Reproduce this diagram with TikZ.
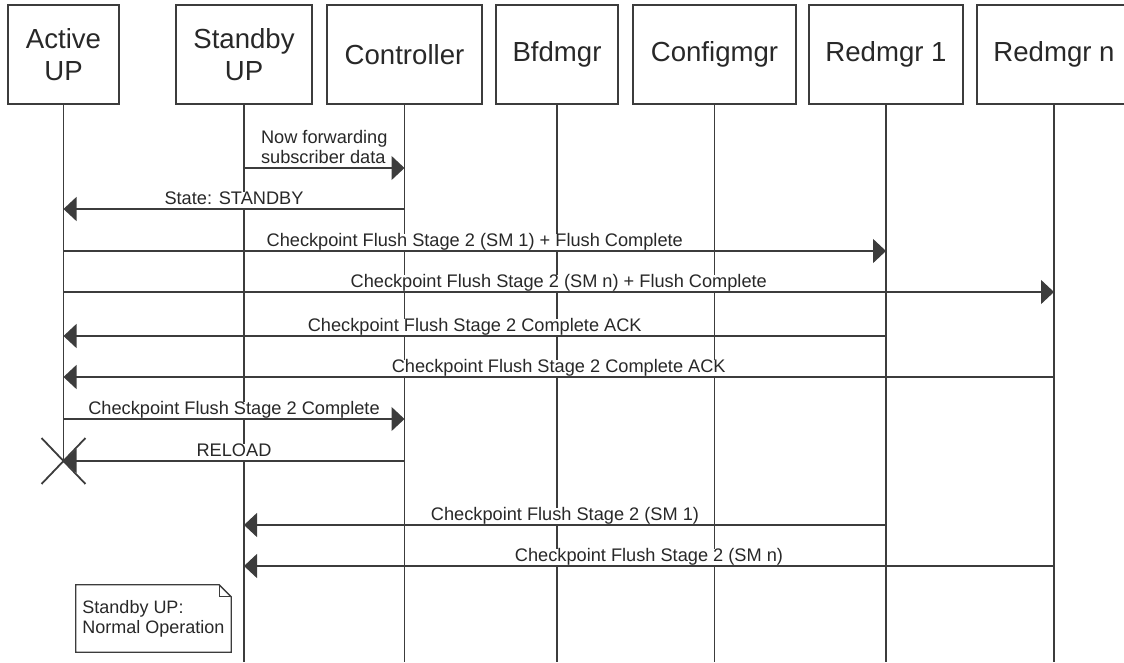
\documentclass[tikz,border=0pt]{standalone}
\usepackage{fontspec}
\setmainfont{Liberation Sans}
\usetikzlibrary{arrows.meta,shapes.misc}
\definecolor{linegray}{RGB}{60,60,60}
\definecolor{textgray}{RGB}{40,40,40}

\begin{document}
\begin{tikzpicture}[x=1pt, y=-1pt,
    actor/.style={rectangle, draw=linegray, line width=1.3pt, minimum height=99pt, inner sep=0pt, align=center, text=textgray, font=\fontsize{27.6}{32}\selectfont},
    life/.style={draw=linegray, line width=1.3pt},
    msg/.style={draw=linegray, line width=1.3pt, -{Triangle[length=13pt,width=24pt]}},
    lbl/.style={inner xsep=1pt, inner ysep=0pt, text depth=2.8pt, fill=white, anchor=south, yshift=0.7pt, text=textgray, font=\fontsize{18.2}{20}\selectfont},
    >=Stealth
]
    \clip (0,0) rectangle (1124,662);

    \node[actor, minimum width=111pt] (active) at (63.5,54.5) {Active\\UP};
    \node[actor, minimum width=136pt] (standby) at (244,54.5) {Standby\\UP};
    \node[actor, minimum width=155pt] (ctrl) at (404.5,54.5) {Controller};
    \node[actor, minimum width=122pt] (bfd) at (557,54.5) {Bfdmgr};
    \node[actor, minimum width=163pt] (cfg) at (714.5,54.5) {Configmgr};
    \node[actor, minimum width=154pt] (red1) at (886,54.5) {Redmgr 1};
    \node[actor, minimum width=154pt] (redn) at (1054,54.5) {Redmgr n};

    % lifelines
    \draw[life] (active.south) -- (active |- 0,461);
    \foreach \n in {standby,ctrl,bfd,cfg,red1,redn}
        \draw[life] (\n.south) -- (\n |- 0,662);

    % messages
    \draw[msg] (standby |- 0,168) -- node[lbl, align=left] {Now forwarding\\subscriber data} (ctrl |- 0,168);
    \draw[msg] (ctrl |- 0,209) -- node[lbl] {State: STANDBY} (active |- 0,209);
    \draw[msg] (active |- 0,251) -- node[lbl] {Checkpoint Flush Stage 2 (SM 1) + Flush Complete} (red1 |- 0,251);
    \draw[msg] (active |- 0,292) -- node[lbl] {Checkpoint Flush Stage 2 (SM n) + Flush Complete} (redn |- 0,292);
    \draw[msg] (red1 |- 0,336) -- node[lbl] {Checkpoint Flush Stage 2 Complete ACK} (active |- 0,336);
    \draw[msg] (redn |- 0,377) -- node[lbl] {Checkpoint Flush Stage 2 Complete ACK} (active |- 0,377);
    \draw[msg] (active |- 0,419) -- node[lbl] {Checkpoint Flush Stage 2 Complete} (ctrl |- 0,419);
    \draw[msg] (ctrl |- 0,461) -- node[lbl] {RELOAD} (active |- 0,461);
    \draw[msg] (red1 |- 0,525) -- node[lbl] {Checkpoint Flush Stage 2 (SM 1)} (standby |- 0,525);
    \draw[msg] (redn |- 0,566) -- node[lbl] {Checkpoint Flush Stage 2 (SM n)} (standby |- 0,566);

    \node[cross out, draw=linegray, line width=1.8pt, minimum width=42pt, minimum height=44pt, inner sep=0pt] (dead) at (active |- 0,461) {};

    % note
    \node[inner sep=0pt, minimum width=155pt, minimum height=67pt, align=left, text=textgray, font=\fontsize{18}{20}\selectfont] (note) at (153.5,618.5) {Standby UP:\\Normal Operation};
    \draw[life] (note.north west) -- ([xshift=-12pt]note.north east) -- ([yshift=-12pt]note.north east) -- (note.south east) -- (note.south west) -- cycle;
    \draw[life] ([xshift=-12pt]note.north east) |- ([yshift=-12pt]note.north east);
\end{tikzpicture}
\end{document}
